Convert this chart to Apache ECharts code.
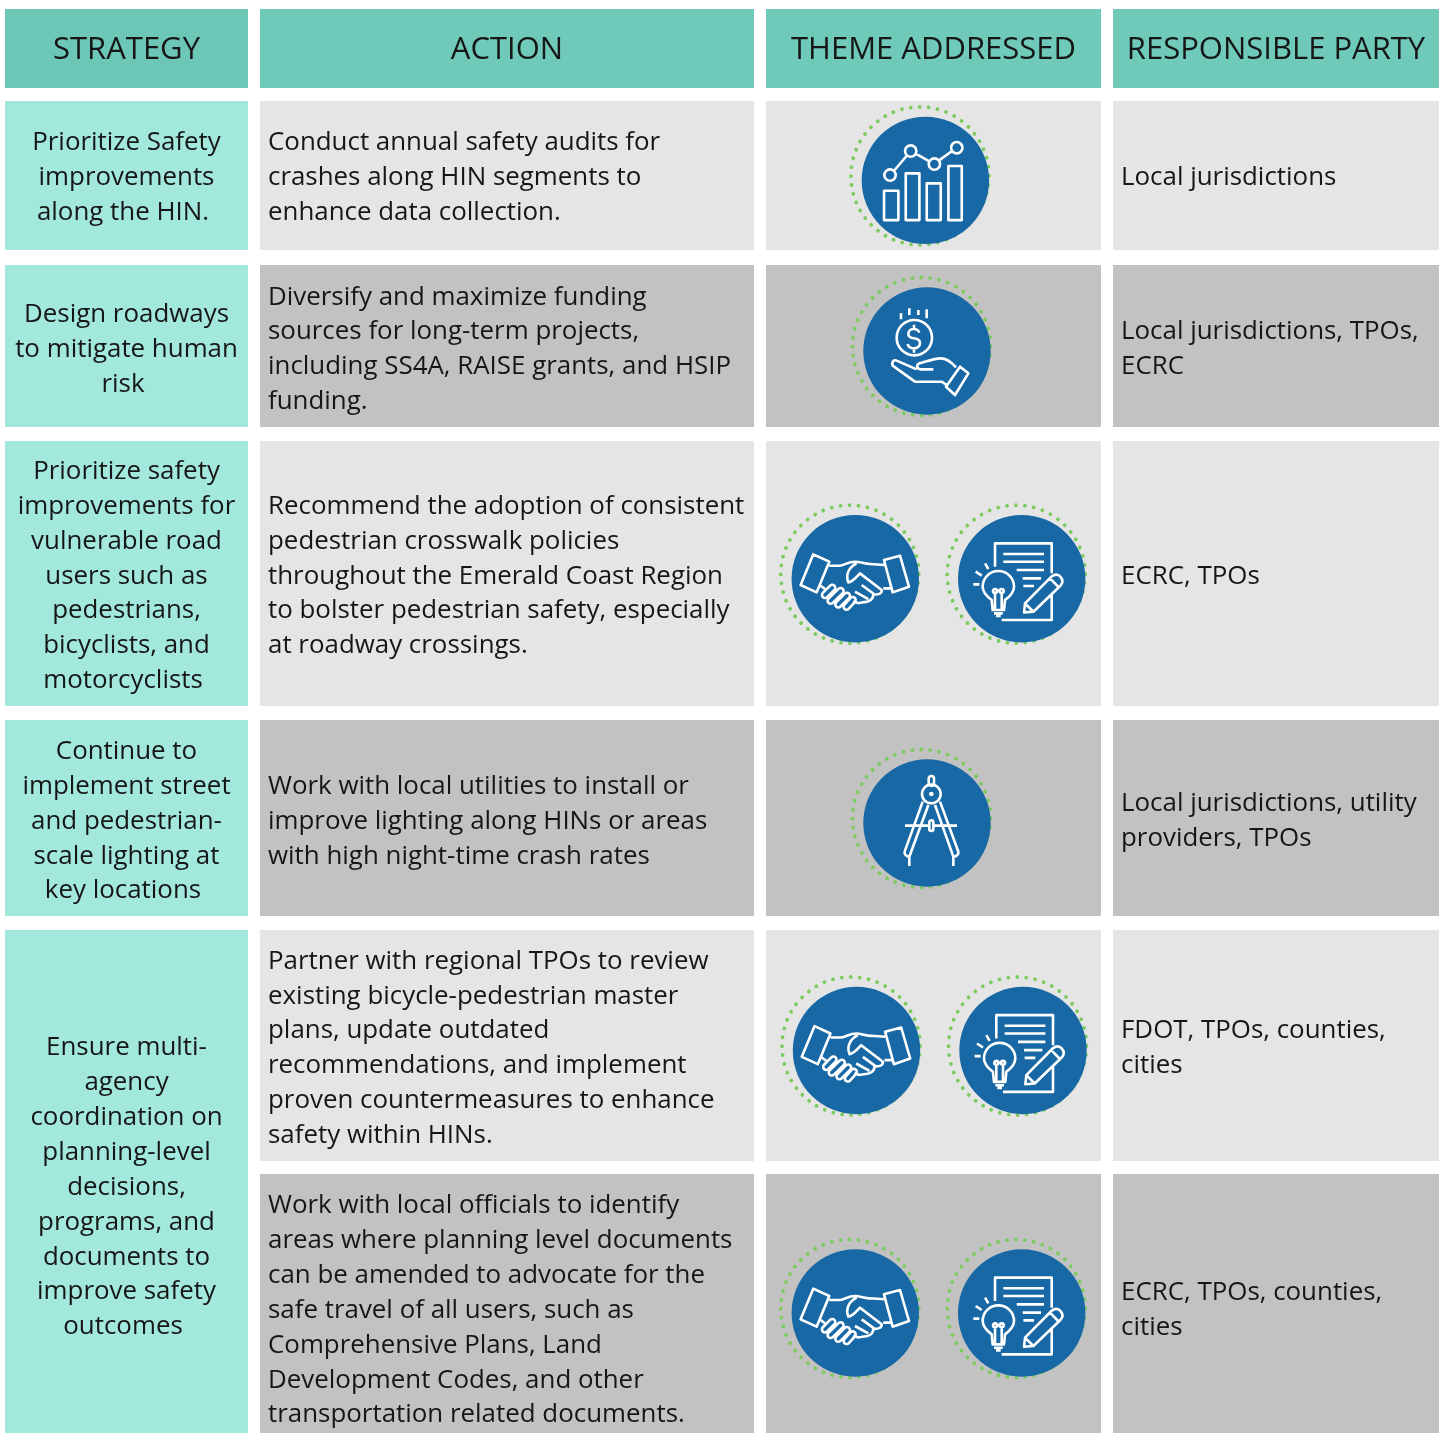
<!DOCTYPE html>
<html>
<head>
<meta charset="utf-8">
<title>Strategy table</title>
<script src="https://cdn.jsdelivr.net/npm/echarts@6/dist/echarts.min.js"></script>
<style>
  html, body { margin: 0; padding: 0; background: #fff; }
  #chart { width: 1443px; height: 1433px; }
</style>
</head>
<body>
<div id="chart"></div>
<script>
// table content
const headers = ['STRATEGY', 'ACTION', 'THEME ADDRESSED', 'RESPONSIBLE PARTY'];

const strategies = [
    ['Prioritize Safety', 'improvements', 'along the HIN.'],
    ['Design roadways', 'to mitigate human', 'risk'],
    ['Prioritize safety', 'improvements for', 'vulnerable road', 'users such as', 'pedestrians,', 'bicyclists, and', 'motorcyclists'],
    ['Continue to', 'implement street', 'and pedestrian-', 'scale lighting at', 'key locations'],
    ['Ensure multi-', 'agency', 'coordination on', 'planning-level', 'decisions,', 'programs, and', 'documents to', 'improve safety', 'outcomes']
];

const actions = [
    ['Conduct annual safety audits for', 'crashes along HIN segments to', 'enhance data collection.'],
    ['Diversify and maximize funding', 'sources for long-term projects,', 'including SS4A, RAISE grants, and HSIP', 'funding.'],
    ['Recommend the adoption of consistent', 'pedestrian crosswalk policies', 'throughout the Emerald Coast Region', 'to bolster pedestrian safety, especially', 'at roadway crossings.'],
    ['Work with local utilities to install or', 'improve lighting along HINs or areas', 'with high night-time crash rates'],
    ['Partner with regional TPOs to review', 'existing bicycle-pedestrian master', 'plans, update outdated', 'recommendations, and implement', 'proven countermeasures to enhance', 'safety within HINs.'],
    ['Work with local officials to identify', 'areas where planning level documents', 'can be amended to advocate for the', 'safe travel of all users, such as', 'Comprehensive Plans, Land', 'Development Codes, and other', 'transportation related documents.']
];

const themes = [
    ['chart'],
    ['money'],
    ['handshake', 'plan'],
    ['compass'],
    ['handshake', 'plan'],
    ['handshake', 'plan']
];

const parties = [
    ['Local jurisdictions'],
    ['Local jurisdictions, TPOs,', 'ECRC'],
    ['ECRC, TPOs'],
    ['Local jurisdictions, utility', 'providers, TPOs'],
    ['FDOT, TPOs, counties,', 'cities'],
    ['ECRC, TPOs, counties,', 'cities']
];

// table layout, in the pixel scale of the hidden axes
const colEdges = [[5, 248], [260, 754], [766, 1101], [1113, 1439]];
const headerEdge = [9, 88];
const rowEdges = [[101, 250], [265, 427], [441, 706], [720, 916], [930, 1161], [1174, 1433]];
const rowTextY = [177.5, 349.5, 576.2, 821.3, 1048.5, 1310.5];
const strategyEdges = [[101, 250], [265, 427], [441, 706], [720, 916], [930, 1433]];
const strategyTextY = [177.5, 349.5, 576.2, 821.3, 1187.5];
const discX = [[925.4], [927], [855.3, 1021.7], [927], [856.5, 1023], [855.3, 1021.7]];
const discY = [180.4, 351, 578.7, 823, 1050.5, 1313];

const LINE_GAP = 34.85;
const FONT = '"Open Sans", sans-serif';
const DISC_R = 63.7;
const DISC_BOX = 382; // icon paths are drawn in a 382 box over the disc

function capsule(x1, y1, x2, y2, r) {
    const len = Math.hypot(x2 - x1, y2 - y1);
    const nx = (y2 - y1) / len * r;
    const ny = -(x2 - x1) / len * r;
    return `M${x1 + nx} ${y1 + ny}L${x2 + nx} ${y2 + ny}A${r} ${r} 0 0 1 ${x2 - nx} ${y2 - ny}L${x1 - nx} ${y1 - ny}A${r} ${r} 0 0 1 ${x1 + nx} ${y1 + ny}Z`;
}

function circlePath(x, y, r) {
    return `M${x - r} ${y}A${r} ${r} 0 1 1 ${x + r} ${y}A${r} ${r} 0 1 1 ${x - r} ${y}Z`;
}

const iconPaths = {
    chart: 'M67 222H110V310H67ZM132 170H173V310H132ZM195 200H237V310H195ZM260 148H300V310H260Z'
        + circlePath(85, 175, 17) + circlePath(147, 103, 17) + circlePath(218, 142, 17) + circlePath(285, 93, 17)
        + 'M97 162L135 117M162 111L203 134M232 131L271 103',
    money: circlePath(153, 151, 53)
        + 'M168 136C165 128 158 125 152 125C143 125 135 130 135 139C135 148 143 152 152 153C161 154 170 158 170 168C170 177 161 183 152 183C143 183 135 178 133 170M152 112V125M152 183V196'
        + 'M113 78V96M138 63V83M165 68V83M190 66V93'
        + 'M160 246L100 220C88 214 82 232 92 238L155 283H235L250 293'
        + 'M210 246H172C160 246 158 232 168 228C190 222 215 213 232 213C250 213 265 225 278 240'
        + 'M290 238L315 258L275 323L248 298Z',
    handshake: 'M65 118L113 140L75 232L27 210ZM277 135L325 122L352 215L303 232Z'
        + 'M113 152H145C160 150 170 140 190 140C205 140 220 147 235 147L277 150'
        + 'M195 145C175 155 160 175 170 202C185 200 195 185 205 175L270 225C272 236 258 240 245 238'
        + 'M245 238C245 258 225 262 212 262C205 265 195 265 185 258'
        + 'M303 220H275'
        + 'M210 210L247 237M190 230L230 252'
        + 'M87 212L100 222'
        + capsule(100, 240, 122, 218, 9) + capsule(117, 257, 147, 228, 9) + capsule(140, 268, 166, 242, 9) + capsule(165, 275, 183, 255, 9),
    plan: 'M111 155V85H281V175M281 240V315H131'
        + 'M136 117H258M136 140H258M176 165H258M194 190H249M196 213H228'
        + 'M101 255C85 243 74 232 74 215A47 47 0 0 1 168 215C168 232 157 243 141 255L138 285H104ZM108 295H134M114 303H128'
        + 'M111 285V235M131 285V235M117 228H125' + circlePath(111, 228, 6) + circlePath(131, 228, 6)
        + 'M46 208H64M53 170L71 182M81 145L91 162'
        + 'M198 292L201 265L280 185C290 175 302 178 308 186C315 194 315 203 307 212L226 290ZM276 190L303 218M201 265L226 290',
    compass: capsule(204, 58, 204, 72, 8) + circlePath(204, 104, 28) + circlePath(204, 104, 3)
        + 'M178 127L124 277C122 285 130 292 138 292L195 137'
        + 'M230 127L285 277C287 285 278 292 270 292L215 137'
        + 'M138 292V320M270 292V320'
        + 'M125 199H197M210 199H281' + capsule(204, 189, 204, 209, 6)
};

function lineTexts(lines, x, centerY, align, api, shiftLast) {
    const top = centerY - (lines.length - 1) * LINE_GAP / 2;
    return lines.map((line, i) => {
        const p = api.coord([x - (shiftLast && i === lines.length - 1 ? 3.5 : 0), top + i * LINE_GAP]);
        return {
            type: 'text',
            style: {
                text: line,
                x: p[0],
                y: p[1],
                fill: '#161616',
                font: `25.9px ${FONT}`,
                align: align,
                verticalAlign: 'middle'
            }
        };
    });
}

function cellRect(col, edge, color, api) {
    const a = api.coord([colEdges[col][0], edge[0]]);
    const b = api.coord([colEdges[col][1], edge[1]]);
    return { type: 'rect', shape: { x: a[0], y: a[1], width: b[0] - a[0], height: b[1] - a[1] }, style: { fill: color } };
}

// row -1 is the header, the rest follow the table
function renderCell(params, api) {
    const col = api.value(0);
    const row = api.value(1);
    const children = [];
    if (row < 0) {
        children.push(cellRect(col, headerEdge, col === 0 ? '#6DC7B7' : '#70CABA', api));
        const x = (colEdges[col][0] + colEdges[col][1]) / 2;
        const p = api.coord([x, 50]);
        children.push({
            type: 'text',
            style: { text: headers[col], x: p[0], y: p[1], fill: '#161616', font: `31px ${FONT}`, align: 'center', verticalAlign: 'middle' }
        });
    } else if (col === 0) {
        children.push(cellRect(col, strategyEdges[row], '#A3E8DC', api));
        children.push(...lineTexts(strategies[row], 126.5, strategyTextY[row], 'center', api, true));
    } else {
        const shade = row % 2 === 0 ? '#E5E5E5' : '#C2C2C2';
        children.push(cellRect(col, rowEdges[row], shade, api));
        if (col === 1) {
            children.push(...lineTexts(actions[row], 268, rowTextY[row], 'left', api));
        } else if (col === 3) {
            children.push(...lineTexts(parties[row], 1121, rowTextY[row], 'left', api));
        }
    }
    return { type: 'group', children: children };
}

function renderIcon(params, api) {
    const row = api.value(0);
    const slot = api.value(1);
    const c = api.coord([discX[row][slot], discY[row]]);
    const box = DISC_R * 2;
    return {
        type: 'group',
        x: c[0],
        y: c[1],
        children: [
            {
                type: 'circle',
                shape: { cx: -5.5, cy: -4.5, r: 69 },
                style: { fill: 'none', stroke: '#7BCB5F', lineWidth: 3.8, lineCap: 'round', lineDash: [0.01, 9] }
            },
            {
                type: 'circle',
                shape: { cx: 0, cy: 0, r: DISC_R },
                style: { fill: '#1868A6' }
            },
            {
                type: 'path',
                shape: {
                    // the zero length corners pin the box, so that cover keeps the drawn scale
                    pathData: `M0 0L0 0M${DISC_BOX} ${DISC_BOX}L${DISC_BOX} ${DISC_BOX}` + iconPaths[themes[row][slot]],
                    layout: 'cover',
                    x: -DISC_R,
                    y: -DISC_R,
                    width: box,
                    height: box
                },
                style: { fill: 'none', stroke: '#fff', lineWidth: 2.6, lineJoin: 'round' }
            }
        ]
    };
}

function initChart() {
    const chart = echarts.init(document.getElementById('chart'), null, { renderer: 'canvas' });

    const cellData = [];
    headers.forEach((h, col) => cellData.push([col, -1]));
    strategies.forEach((s, row) => cellData.push([0, row]));
    actions.forEach((a, row) => {
        cellData.push([1, row]);
        cellData.push([2, row]);
        cellData.push([3, row]);
    });

    const iconData = [];
    themes.forEach((list, row) => list.forEach((name, slot) => iconData.push([row, slot])));

    chart.setOption({
        backgroundColor: '#fff',
        animation: false,
        grid: { left: 0, right: 0, top: 0, bottom: 0 },
        xAxis: { type: 'value', min: 0, max: 1443, show: false },
        yAxis: { type: 'value', min: 0, max: 1433, inverse: true, show: false },
        series: [
            { type: 'custom', name: 'cells', renderItem: renderCell, data: cellData, silent: true, clip: true },
            { type: 'custom', name: 'themes', renderItem: renderIcon, data: iconData, silent: true, clip: true }
        ]
    });
}

window.addEventListener('DOMContentLoaded', initChart);
</script>
</body>
</html>
